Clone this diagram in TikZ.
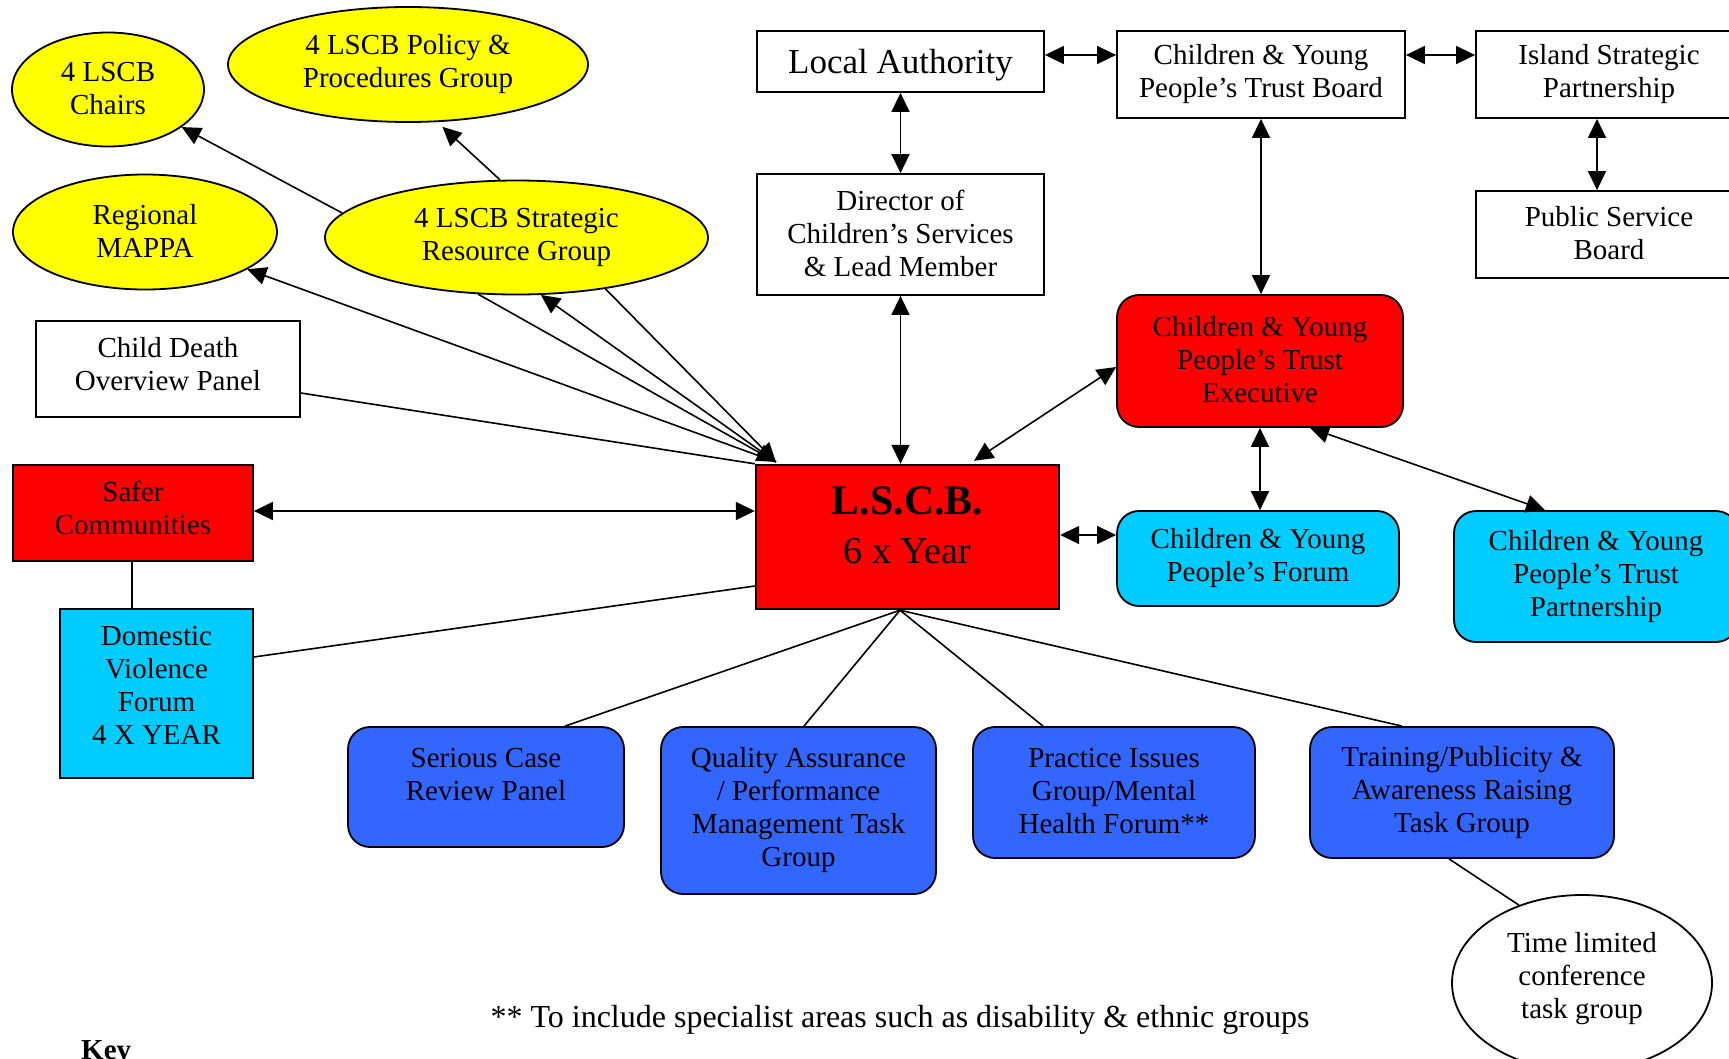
\documentclass[tikz,border=0pt]{standalone}
\usepackage{fontspec}
\setmainfont{Liberation Serif}
\usetikzlibrary{arrows.meta,shapes.geometric}
\definecolor{cred}{RGB}{255,0,0}
\definecolor{cyel}{RGB}{255,255,0}
\definecolor{ccyan}{RGB}{0,204,255}
\definecolor{cblue}{RGB}{51,102,255}
\newcommand\topstr{\rule{0pt}{30pt}}
\newcommand\botstr{\rule[-3pt]{0pt}{3pt}}
\begin{document}
\begin{tikzpicture}[x=1pt,y=-1pt,
  base/.style={draw=black,line width=1.8pt,inner sep=0pt,align=center,text=black,
    font=\fontsize{29}{33}\selectfont,
    execute at begin node=\topstr, execute at end node=\botstr},
  sqbox/.style={base,rectangle},
  rbox/.style={base,rectangle,rounded corners=22pt},
  oval/.style={base,ellipse,fill=cyel},
  conn/.style={line width=1.6pt,draw=black},
  one/.style={conn,-{Triangle[length=19pt,width=18pt]}},
  two/.style={conn,{Triangle[length=19pt,width=18pt]}-{Triangle[length=19pt,width=18pt]}}]
\useasboundingbox[fill=white] (0,0) rectangle (1729,1058);

% yellow ellipses
\node[oval,minimum width=192pt,minimum height=114pt] (chairs) at (108,89.5) {4 LSCB\\Chairs};
\node[oval,minimum width=360pt,minimum height=115pt] (policy) at (408,64.5) {4 LSCB Policy \&\\Procedures Group};
\node[oval,minimum width=264pt,minimum height=115pt] (mappa) at (145,232) {Regional\\MAPPA};
\node[oval,minimum width=383pt,minimum height=114pt] (srg) at (516.5,237.5) {4 LSCB Strategic\\Resource Group};

% left column
\node[sqbox,fill=white,minimum width=264pt,minimum height=96pt] (cdop) at (168,369) {Child Death\\Overview Panel\rule[-11pt]{0pt}{0pt}};
\node[sqbox,fill=cred,minimum width=240pt,minimum height=96pt] (safer) at (133,513) {Safer\\Communities\rule[-10pt]{0pt}{0pt}};
\node[sqbox,fill=ccyan,minimum width=193pt,minimum height=169pt] (dvf) at (156.5,693.5) {Domestic\\Violence\\Forum\\4 X YEAR\rule[-16pt]{0pt}{0pt}};

% top boxes
\node[sqbox,fill=white,minimum width=287pt,minimum height=61pt,font=\fontsize{35}{40}\selectfont,
  execute at begin node={\rule{0pt}{31.5pt}}, execute at end node={\rule[-8.5pt]{0pt}{8.5pt}}] (la) at (900.5,61.5) {Local Authority};
\node[sqbox,fill=white,minimum width=287pt,minimum height=121pt] (dir) at (900.5,234.5) {Director of\\Children’s Services\\\& Lead Member};
\node[sqbox,fill=white,minimum width=288pt,minimum height=87pt] (tb) at (1261,74.5) {Children \& Young\\People’s Trust Board};
\node[sqbox,fill=white,minimum width=266pt,minimum height=87pt] (isp) at (1609,74.5) {Island Strategic\\Partnership};
\node[sqbox,fill=white,minimum width=266pt,minimum height=87pt] (psb) at (1609,234.5) {Public Service\\Board};
\node[rbox,fill=cred,minimum width=286pt,minimum height=132pt] (exec) at (1260,361) {Children \& Young\\People’s Trust\\Executive};

% central board
\node[sqbox,fill=cred,line width=2.4pt,minimum width=303pt,minimum height=144pt,
  font=\fontsize{38}{49}\selectfont,execute at begin node={},execute at end node={}] (lscb) at (907.5,537)
  {{\rule{0pt}{30pt}\bfseries\fontsize{42}{49}\selectfont L.S.C.B.}\\6 x Year\rule[-26pt]{0pt}{26pt}};

% right cyan boxes
\node[rbox,fill=ccyan,minimum width=282pt,minimum height=95pt] (forum) at (1258,558.5) {Children \& Young\\People’s Forum};
\node[rbox,fill=ccyan,minimum width=284pt,minimum height=131pt] (tpart) at (1596,576.5) {Children \& Young\\People’s Trust\\Partnership};

% blue task groups
\node[rbox,fill=cblue,minimum width=276pt,minimum height=120pt] (scr) at (486,787) {Serious Case\\Review Panel\rule[-26pt]{0pt}{0pt}};
\node[rbox,fill=cblue,minimum width=275pt,minimum height=167pt] (qa) at (798.5,810.5) {Quality Assurance\\/ Performance\\Management Task\\Group};
\node[rbox,fill=cblue,minimum width=282pt,minimum height=131pt] (pi) at (1114,792.5) {Practice Issues\\Group/Mental\\Health Forum**};
\node[rbox,fill=cblue,minimum width=304pt,minimum height=131pt] (tr) at (1462,792.5) {Training/Publicity \&\\Awareness Raising\\Task Group};

% time limited group
\node[base,ellipse,fill=white,minimum width=260pt,minimum height=176pt] (tl) at (1582,983) {Time limited\\conference\\task group\rule[-15pt]{0pt}{0pt}};

% texts
\node[font=\fontsize{32}{36}\selectfont,anchor=base,inner sep=0pt] (foot) at (900,1027) {** To include specialist areas such as disability \& ethnic groups};
\node[font=\fontsize{29}{33}\selectfont\bfseries,anchor=base west,inner sep=0pt] (key) at (81,1059) {Key};

% hub coordinates
\coordinate (hub) at (776,462);
\coordinate (bot) at ([xshift=-7.5pt]lscb.south);

% connectors, top row
\draw[two] (la.east |- 0,55) -- (tb.west |- 0,55);
\draw[two] (tb.east |- 0,55) -- (isp.west |- 0,55);
\draw[two] (la.south) -- (dir.north);
\draw[two] (dir.south) -- (dir.south |- lscb.north);
\draw[two] (tb.south) -- (tb.south |- exec.north);
\draw[two] (1597,0 |- isp.south) -- (1597,0 |- psb.north);
\draw[two] ([xshift=66.5pt,yshift=3pt]lscb.north) -- (exec.west |- 0,367);
\draw[two] (exec.south) -- (exec.south |- forum.north);
\draw[two] (1310,0 |- exec.south) -- (1545,0 |- tpart.north);
\draw[two] (lscb.east |- 0,535) -- (forum.west |- 0,535);
\draw[two] (safer.east |- 0,511) -- (lscb.west |- 0,511);

% left connectors
\draw[conn] (132,0 |- safer.south) -- (132,0 |- dvf.north);
\draw[conn] (dvf.east |- 0,657) -- (lscb.west |- 0,586);
\draw[conn] (cdop.east |- 0,393) -- (lscb.north west);

% strategic group connectors
\draw[one] (hub) -- (mappa);
\draw[one] (srg.236.7) -- (hub);
\draw[one] (hub) -- (srg.293.9);
\draw[one] (srg.330.4) -- (hub);
\draw[one] (srg.172.8) -- (chairs.333.4);
\draw[one] (srg.106.9) -- ([yshift=-5pt]policy.301.1);

% task groups
\draw[conn] (bot) -- (565,0 |- scr.north);
\draw[conn] (bot) -- (804,0 |- qa.north);
\draw[conn] (bot) -- (1043,0 |- pi.north);
\draw[conn] (bot) -- (1402,0 |- tr.north);
\draw[conn] (1449,0 |- tr.south) -- (tl.129.4);
\end{tikzpicture}
\end{document}
